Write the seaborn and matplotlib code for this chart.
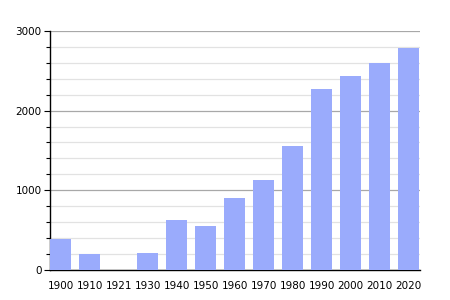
import matplotlib
matplotlib.use("Agg")
import matplotlib.pyplot as plt
import seaborn as sns
import pandas as pd
import numpy as np
from matplotlib.ticker import MultipleLocator

years = ["1900", "1910", "1921", "1930", "1940", "1950", "1960", "1970", "1980", "1990", "2000", "2010", "2020"]
population = [390, 200, 0, 210, 625, 550, 900, 1130, 1550, 2275, 2440, 2600, 2790]

df = pd.DataFrame({"year": years, "pop": population})

sns.set_theme(style="white")
plt.rcParams['font.family'] = ['DejaVu Sans']

fig = plt.figure(figsize=(4.5, 3), dpi=100)
ax = fig.add_axes([0.111, 0.1, 0.822, 0.797])

sns.barplot(data=df, x="year", y="pop", color="#9aabfc", saturation=1, width=0.72,
            linewidth=0, edgecolor="none", ax=ax, zorder=3)

ax.set_ylim(0, 3000)
ax.set_xlim(-0.37, 12.38)
ax.yaxis.set_major_locator(MultipleLocator(1000))
ax.yaxis.set_minor_locator(MultipleLocator(200))
ax.grid(which="major", axis="y", color="#a8a8a8", linewidth=0.9, zorder=0)
ax.grid(which="minor", axis="y", color="#e2e2e2", linewidth=0.9, zorder=0)
ax.set_axisbelow(True)

for s in ["top", "right"]:
    ax.spines[s].set_visible(False)
for s in ["left", "bottom"]:
    ax.spines[s].set_visible(True)
    ax.spines[s].set_color("black")
    ax.spines[s].set_linewidth(1.0)

ax.tick_params(axis="y", which="major", left=True, length=4, width=0.8, color="black",
               labelsize=7.5, pad=2, labelcolor="black")
ax.tick_params(axis="y", which="minor", left=True, length=3, width=0.8, color="black")
ax.tick_params(axis="x", bottom=False, labelsize=7.5, pad=2, labelcolor="black")
ax.set_xlabel("")
ax.set_ylabel("")

fig.savefig("out.png", dpi=100)
